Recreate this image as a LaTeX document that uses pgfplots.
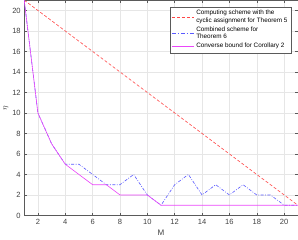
\documentclass[border=0pt]{standalone}
\usepackage{pgfplots}
\pgfplotsset{compat=1.18}
\usepackage{fontspec}
\setmainfont{Liberation Sans}
\definecolor{gridc}{RGB}{230,230,230}
\definecolor{axc}{RGB}{90,90,90}
\definecolor{cred}{RGB}{255,70,70}
\definecolor{cblue}{RGB}{90,90,255}
\definecolor{cmag}{RGB}{235,70,250}
\begin{document}
\begin{tikzpicture}
\begin{axis}[
  scale only axis,
  width=272pt, height=214pt,
  xmin=1, xmax=21, ymin=0, ymax=21,
  xtick={2,4,...,20}, ytick={0,2,...,20},
  grid=major,
  major grid style={gridc, line width=0.4pt},
  axis line style={axc, line width=0.4pt},
  tick style={axc, line width=0.4pt},
  major tick length=2.5pt,
  tick align=inside,
  ticklabel style={font=\fontsize{7.5}{9}\selectfont, text=black!75},
  /pgf/number format/assume math mode=true,
  xlabel={M}, ylabel={$\eta$},
  label style={font=\fontsize{8}{9}\selectfont, text=black!75},
  xlabel style={yshift=1pt},
  ylabel style={yshift=-3pt},
  legend style={at={(rel axis cs:0.976,0.97)}, anchor=north east,
    font=\fontsize{6.3}{7.3}\selectfont, draw=axc, line width=0.4pt,
    inner sep=1.5pt, row sep=-1pt, cells={align=left}},
  legend cell align=left,
]
\addlegendimage{legend image code/.code={\draw[cred, line width=0.6pt, solid] (0pt,0pt) -- (3pt,0pt) (5pt,0pt) -- (8pt,0pt) (10pt,0pt) -- (13pt,0pt) (15pt,0pt) -- (18pt,0pt) (20pt,0pt) -- (22pt,0pt);}}
\addlegendentry{Computing scheme with the\\cyclic assignment for Theorem 5}
\addlegendimage{legend image code/.code={\draw[cblue, line width=0.6pt, solid] (0pt,0pt) -- (4pt,0pt) (6pt,0pt) -- (7pt,0pt) (9pt,0pt) -- (13pt,0pt) (15pt,0pt) -- (16pt,0pt) (18pt,0pt) -- (22pt,0pt);}}
\addlegendentry{Combined scheme for\\Theorem 6}
\addlegendimage{legend image code/.code={\draw[cmag, line width=0.6pt, solid] (0pt,0pt) -- (22pt,0pt);}}
\addlegendentry{Converse bound for Corollary 2}
\addplot[cred, dash pattern=on 3pt off 2pt, line width=0.6pt, forget plot] coordinates {(1,21) (21,1)};
\addplot[cblue, dash pattern=on 3pt off 1.5pt on 0.8pt off 1.5pt, line width=0.6pt, forget plot] coordinates {
(1,21) (2,10) (3,7) (4,5) (5,5) (6,4) (7,3) (8,3) (9,4) (10,2) (11,1)
(12,3) (13,4) (14,2) (15,3) (16,2) (17,3) (18,2) (19,2) (20,1) (21,1)};
\addplot[cmag, line width=0.6pt, forget plot] coordinates {
(1,21) (2,10) (3,7) (4,5) (5,4) (6,3) (7,3) (8,2) (9,2) (10,2) (11,1)
(12,1) (13,1) (14,1) (15,1) (16,1) (17,1) (18,1) (19,1) (20,1) (21,1)};
\end{axis}
\end{tikzpicture}
\end{document}
